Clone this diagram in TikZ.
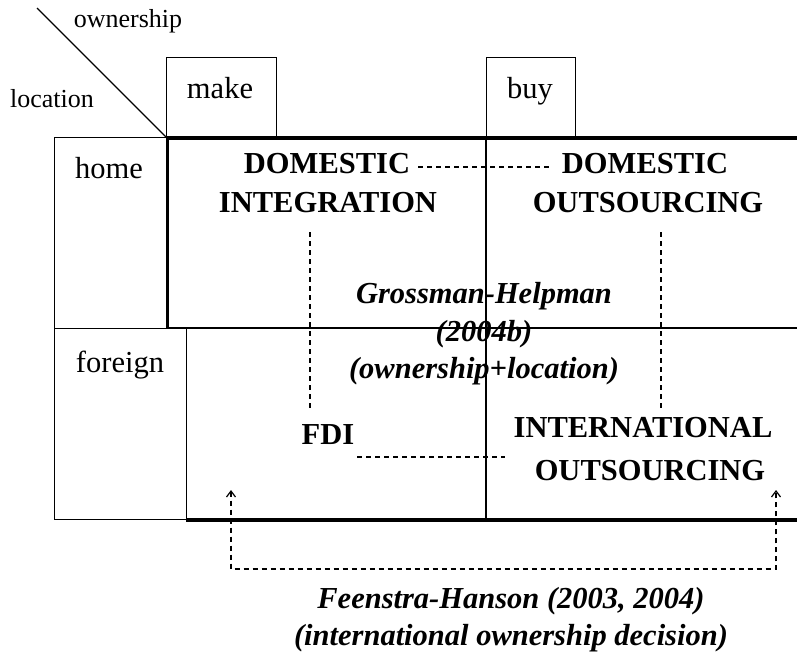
\documentclass[tikz,border=0pt]{standalone}
\usepackage{fontspec}
\setmainfont{Liberation Serif}
\usetikzlibrary{arrows.meta}
\begin{document}
\begin{tikzpicture}[x=1pt,y=-1pt,
  thinline/.style={line width=1.4pt},
  thickline/.style={line width=3.5pt},
  dashline/.style={line width=1.2pt, dash pattern=on 5pt off 4pt},
  boxnode/.style={draw, thinline, inner sep=0pt, anchor=north west},
  lbl/.style={anchor=base, inner sep=0pt, font=\fontsize{30.5}{38}\selectfont},
  small/.style={anchor=base, inner sep=0pt, font=\fontsize{26}{32}\selectfont},
  cell/.style={anchor=base, inner sep=0pt, font=\fontsize{30.5}{38}\selectfont\bfseries},
  cite/.style={anchor=base, inner sep=0pt, font=\fontsize{30.5}{38}\selectfont\bfseries\itshape},
  barb/.tip={Straight Barb[length=6pt,width=9pt,line width=1.2pt]},
]
\useasboundingbox (0,0) rectangle (797,654);

% frame of the table
\draw[thinline] (37,8) -- (166,137);
\node[boxnode, minimum width=110pt, minimum height=80pt] (makebox) at (166,57) {};
\node[boxnode, minimum width=89pt, minimum height=80pt] (buybox) at (486,57) {};
\node[boxnode, minimum width=113pt, minimum height=191pt] (homebox) at (54,137) {};
\node[boxnode, minimum width=132pt, minimum height=191pt] (forbox) at (54,328) {};
\draw[thickline] (166,138) -- (797,138);
\draw[line width=3pt] (167,137) -- (167,328);
\draw[thinline] (167,328) -- (797,328);
\draw[thinline] (486,137) -- (486,519);
\draw[line width=4pt] (186,520) -- (797,520);

% labels
\node[small] (own) at (128,27) {ownership};
\node[small] (loc) at (52,107) {location};
\node[lbl] (make) at (220,98) {make};
\node[lbl] (buy) at (530,98) {buy};
\node[lbl] (home) at (109,178) {home};
\node[lbl] (foreign) at (120,372) {foreign};

\node[cell] (domL) at (327,173) {DOMESTIC};
\node[cell] (integ) at (328,212) {INTEGRATION};
\node[cell] (domR) at (645,173) {DOMESTIC};
\node[cell] (outR) at (648,212) {OUTSOURCING};
\node[cell] (fdi) at (328,444) {FDI};
\node[cell] (intl) at (643,437) {INTERNATIONAL};
\node[cell] (outI) at (650,480) {OUTSOURCING};

\node[cite] (gh1) at (484,303) {Grossman-Helpman};
\node[cite] (gh2) at (484,341) {(2004b)};
\node[cite] (gh3) at (484,378) {(ownership+location)};

\node[cite] (fh1) at (511,608) {Feenstra-Hanson (2003, 2004)};
\node[cite] (fh2) at (511,645) {(international ownership decision)};

% dashed links
\draw[dashline, shorten <=8pt, shorten >=10pt] (domL.east |- 0,167) -- (domR.west |- 0,167);
\coordinate (vL1) at (310,232);
\coordinate (vL2) at (310,408);
\coordinate (vR1) at (661,232);
\coordinate (vR2) at (661,408);
\draw[dashline] (vL1) -- (vL2);
\draw[dashline] (vR1) -- (vR2);
\draw[dashline, shorten <=3pt, shorten >=8pt] (fdi.east |- 0,457) -- (intl.west |- 0,457);

% bracket
\coordinate (bl) at (231,490);
\coordinate (br) at (776,490);
\draw[dashline, barb-barb] (bl) -- (bl |- 0,569) -- (br |- 0,569) -- (br);
\end{tikzpicture}
\end{document}
